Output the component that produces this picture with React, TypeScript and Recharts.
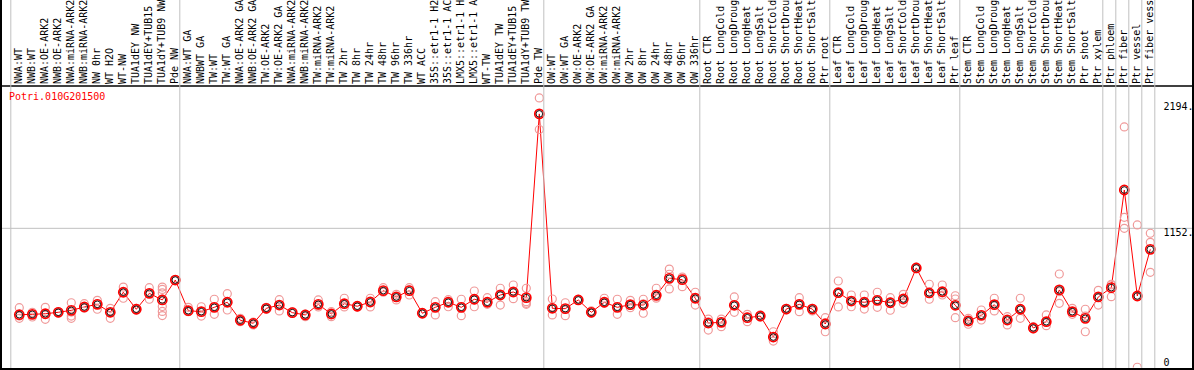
import React from 'react';
import { ComposedChart, Line, XAxis, YAxis, ReferenceLine } from 'recharts';

const geneId = 'Potri.010G201500';

const categories = [
  'NWA:WT', 'NWB:WT', 'NWA:OE-ARK2', 'NWB:OE-ARK2', 'NWA:miRNA-ARK2', 'NWB:miRNA-ARK2', 'NW 0hr', 'WT H2O', 'WT-NW', 'TUA1dEY NW', 'TUA1dEY+TUB15 NW', 'TUA1dY+TUB9 NW', 'Pde NW',
  'NWA:WT GA', 'NWBWT GA', 'TW:WT', 'TW:WT GA', 'NWA:OE-ARK2 GA', 'NWB:OE-ARK2 GA', 'TW:OE-ARK2', 'TW:OE-ARK2 GA', 'NWA:miRNA-ARK2', 'NWB:miRNA-ARK2', 'TW:miRNA-ARK2', 'TW:miRNA-ARK2', 'TW 2hr', 'TW 8hr', 'TW 24hr', 'TW 48hr', 'TW 96hr', 'TW 336hr', 'WT ACC', '35S::etr1-1 H2O', '35S::etr1-1 ACC', 'LMX5::etr1-1 H2O', 'LMX5::etr1-1 ACC', 'WT-TW', 'TUA1dEY TW', 'TUA1dEY+TUB15 TW', 'TUA1dY+TUB9 TW', 'Pde TW',
  'OW:WT', 'OW:WT GA', 'OW:OE-ARK2', 'OW:OE-ARK2 GA', 'OW:miRNA-ARK2', 'OW:miRNA-ARK2', 'OW 2hr', 'OW 8hr', 'OW 24hr', 'OW 48hr', 'OW 96hr', 'OW 336hr',
  'Root CTR', 'Root LongCold', 'Root LongDrought', 'Root LongHeat', 'Root LongSalt', 'Root ShortCold', 'Root ShortDrought', 'Root ShortHeat', 'Root ShortSalt', 'Ptr root',
  'Leaf CTR', 'Leaf LongCold', 'Leaf LongDrought', 'Leaf LongHeat', 'Leaf LongSalt', 'Leaf ShortCold', 'Leaf ShortDrought', 'Leaf ShortHeat', 'Leaf ShortSalt', 'Ptr leaf',
  'Stem CTR', 'Stem LongCold', 'Stem LongDrought', 'Stem LongHeat', 'Stem LongSalt', 'Stem ShortCold', 'Stem ShortDrought', 'Stem ShortHeat', 'Stem ShortSalt', 'Ptr shoot', 'Ptr xylem',
  'Ptr phloem', 'Ptr fiber', 'Ptr vessel', 'Ptr fiber vessel',
];

const means = [
  437, 440, 445, 457, 473, 501, 523, 457, 623, 482, 614, 559, 724,
  470, 462, 498, 540, 391, 366, 490, 517, 454, 435, 523, 443, 528, 507, 542, 636, 584, 636, 449, 498, 540, 498, 565, 540, 600, 625, 578, 2099,
  490, 487, 559, 457, 540, 498, 520, 517, 598, 738, 727, 573,
  368, 374, 515, 412, 426, 252, 484, 523, 484, 360,
  619, 550, 540, 556, 536, 567, 824, 617, 627, 515,
  385, 432, 520, 393, 482, 327, 379, 642, 462, 407, 584,
  661, 1469, 592, 978,
];

const replicates = [
  [495, 407, 426], [457, 418, 440], [498, 399, 440], [462, 449, 457], [536, 459, 426, 407],
  [528, 490, 501], [556, 528, 482], [490, 407, 457], [666, 573, 623], [490, 476, 482],
  [661, 565, 614], [666, 646, 617, 567, 505, 464, 430], [720, 724, 728],
  [498, 462, 470], [503, 426, 465], [565, 440, 498], [611, 476, 540], [407, 379, 391],
  [352, 368, 375], [498, 482, 490], [561, 468, 517], [462, 449, 454], [435, 421, 443],
  [559, 501, 517], [421, 462, 443], [573, 501, 526], [500, 507, 512], [573, 501, 542],
  [661, 623, 633], [606, 559, 584], [661, 600, 642], [445, 449, 453], [545, 435, 501],
  [561, 503, 542], [565, 429, 501], [633, 503, 559], [578, 523, 542], [656, 517, 600],
  [683, 623, 570], [656, 545, 523, 531], [2231, 2098, 1970],
  [567, 435, 493], [536, 429, 484], [565, 559, 559], [468, 449, 459], [573, 531, 542],
  [565, 440, 501], [556, 495, 517], [565, 449, 526], [656, 573, 584], [815, 772, 650],
  [749, 669, 741], [623, 517, 575],
  [401, 310, 377], [401, 338, 377], [584, 457, 517], [440, 379, 418], [435, 416, 426],
  [296, 219, 248], [490, 476, 484], [578, 462, 526], [490, 468, 484], [412, 296, 372],
  [716, 501, 617], [600, 503, 550], [600, 484, 542], [623, 498, 559], [578, 474, 542],
  [606, 531, 567], [818, 824, 830], [689, 565, 617], [683, 600, 617], [594, 567, 412],
  [407, 358, 385], [476, 393, 435], [573, 468, 517], [421, 352, 393], [573, 407, 484],
  [338, 319, 327], [435, 346, 377], [774, 531, 627], [490, 440, 459], [482, 296, 426],
  [639, 517, 584],
  [689, 586, 683], [1991, 1243, 1152], [1180, 2, 592], [1111, 1036, 788],
];

const groupStarts = [0, 13, 41, 53, 63, 73, 84, 85, 86, 87];
const yTicks = [0, 1152, 2194];
const yTickLabels = ['0', '1152.', '2194.'];
const gridValues = [1152];
const yMax = 2330;

const MONO = "'DejaVu Sans Mono', monospace";
const MAX_REPS = 7;

const data = categories.map((name, i) => {
  const row: any = { name, mean: means[i] };
  replicates[i].forEach((v, k) => {
    row['r' + k] = v;
  });
  return row;
});

const XTick = (props: any) => {
  const { x, payload } = props;
  const i = payload.index;
  const tx = x + 2.5;
  const ty = 84;
  return (
    <g>
      {groupStarts.includes(i) && (
        <line x1={x - 8.5} x2={x - 8.5} y1={0} y2={369} stroke="#c0c0c0" strokeWidth={1} />
      )}
      {i === categories.length - 1 && (
        <line x1={x + 4.5} x2={x + 4.5} y1={0} y2={369} stroke="#c0c0c0" strokeWidth={1} />
      )}
      <text
        x={tx}
        y={ty}
        transform={`rotate(-90, ${tx}, ${ty})`}
        fontFamily={MONO}
        fontSize={10}
        fill="#000"
        textAnchor="start"
      >
        {payload.value}
      </text>
    </g>
  );
};

const RepDot = (props: any) => {
  const { cx, cy } = props;
  if (cx == null || cy == null || isNaN(cy)) return <g />;
  return <circle cx={cx} cy={cy} r={4} fill="none" stroke="#f09a9a" strokeWidth={1.2} />;
};

const MeanDot = (props: any) => {
  const { cx, cy } = props;
  if (cx == null || cy == null) return <g />;
  return (
    <g>
      <circle cx={cx} cy={cy} r={4.6} fill="none" stroke="#ff0000" strokeWidth={1.6} />
      <circle cx={cx} cy={cy} r={3.3} fill="none" stroke="#000" strokeWidth={0.9} />
    </g>
  );
};

const makeTickLabel = (text: string, value: number) => (props: any) => {
  const { viewBox } = props;
  const x = viewBox.x + viewBox.width - 28.5;
  const y = viewBox.y + (value > 0 ? 8 : -2);
  return (
    <text x={x} y={y} fontFamily={MONO} fontSize={10} fill="#000">
      {text}
    </text>
  );
};

export default function App() {
  return (
    <div style={{ position: 'absolute', left: 0, top: 0, width: 1194, height: 370, background: '#fff' }}>
      <ComposedChart
        width={1194}
        height={370}
        data={data}
        margin={{ top: 0, right: 2, bottom: 2.5, left: 1 }}
      >
        <XAxis
          dataKey="name"
          orientation="top"
          height={86}
          interval={0}
          padding={{ left: 18.3, right: 41.7 }}
          tickLine={false}
          axisLine={{ stroke: '#000', strokeWidth: 1.5 }}
          tick={<XTick />}
        />
        <YAxis hide domain={[0, yMax]} type="number" allowDataOverflow />
        {gridValues.map((v) => (
          <ReferenceLine key={'g' + v} y={v} stroke="#c0c0c0" strokeWidth={1} />
        ))}
        {yTicks.map((v, k) => {
          const Lab = makeTickLabel(yTickLabels[k], v);
          return <ReferenceLine key={'t' + v} y={v} stroke="none" label={<Lab />} />;
        })}
        {Array.from({ length: MAX_REPS }, (_, k) => (
          <Line
            key={'r' + k}
            dataKey={'r' + k}
            stroke="none"
            dot={<RepDot />}
            activeDot={false}
            isAnimationActive={false}
            connectNulls={false}
          />
        ))}
        <Line
          dataKey="mean"
          stroke="#ff0000"
          strokeWidth={1}
          dot={<MeanDot />}
          activeDot={false}
          isAnimationActive={false}
        />
      </ComposedChart>
      <div
        style={{
          position: 'absolute',
          left: 9,
          top: 91,
          fontFamily: MONO,
          fontSize: 10,
          lineHeight: '12px',
          color: '#ff0000',
        }}
      >
        {geneId}
      </div>
      <div
        style={{
          position: 'absolute',
          left: 0,
          top: 0,
          width: 1194,
          height: 370,
          boxSizing: 'border-box',
          borderLeft: '2px solid #000',
          borderRight: '2px solid #000',
          borderBottom: '2px solid #000',
          pointerEvents: 'none',
        }}
      />
    </div>
  );
}
